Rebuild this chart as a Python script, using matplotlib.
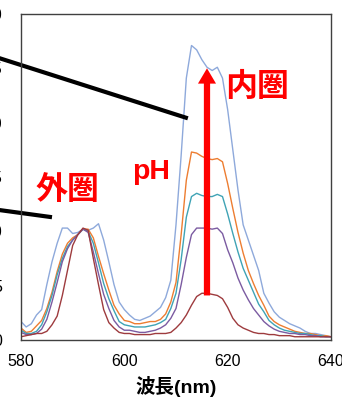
import numpy as np
import matplotlib
matplotlib.use('Agg')
import matplotlib.pyplot as plt

plt.rcParams['font.family'] = ['Liberation Sans', 'Noto Sans CJK JP']

# wavelength (nm), 1 nm steps
wavelength = np.arange(580, 641)

# emission intensity, one series per pH (lowest to highest drawn last)
s_blue = [1.7, 1.2, 1.5, 2.3, 2.8, 5.1, 7.2, 8.9, 10.3, 10.3,
          9.8, 9.9, 10.2, 10.1, 10.3, 10.7, 9.2, 7.2, 5.1, 3.5,
          2.8, 2.3, 1.9, 1.8, 2.0, 2.2, 2.6, 3.0, 3.9, 5.5,
          10.6, 17.0, 24.1, 27.1, 26.7, 25.8, 25.1, 24.8, 25.1, 24.1,
          21.2, 17.5, 13.8, 10.6, 9.2, 7.8, 6.4, 4.3, 3.4, 2.6,
          2.1, 1.8, 1.5, 1.3, 1.1, 0.8, 0.6, 0.6, 0.5, 0.4, 0.3]
s_orange = [1.1, 0.7, 0.8, 1.3, 1.8, 2.9, 4.4, 6.3, 7.9, 8.9,
            9.4, 9.7, 10.2, 10.2, 9.4, 7.7, 6.1, 4.6, 3.2, 2.4,
            1.8, 1.7, 1.5, 1.5, 1.6, 1.7, 1.7, 1.9, 2.4, 3.5,
            5.3, 9.7, 14.7, 17.3, 17.2, 16.9, 16.7, 16.6, 16.7, 16.4,
            14.4, 12.1, 9.9, 8.0, 6.4, 5.2, 4.1, 3.2, 2.2, 1.7,
            1.4, 1.2, 1.0, 0.8, 0.7, 0.6, 0.6, 0.5, 0.4, 0.4, 0.3]
s_teal = [0.9, 0.6, 0.6, 0.8, 1.4, 2.6, 4.1, 6.0, 7.5, 8.6,
          9.2, 9.7, 10.2, 10.0, 8.9, 7.1, 5.2, 3.8, 2.7, 1.7,
          1.4, 1.3, 1.2, 1.2, 1.2, 1.3, 1.4, 1.6, 1.9, 2.9,
          4.3, 7.4, 11.3, 13.2, 13.5, 13.3, 13.2, 13.2, 13.4, 13.2,
          11.6, 9.8, 8.1, 6.6, 5.5, 4.4, 3.3, 2.6, 1.8, 1.4,
          1.1, 0.9, 0.8, 0.7, 0.6, 0.6, 0.5, 0.4, 0.4, 0.3, 0.3]
s_purple = [0.7, 0.5, 0.5, 0.6, 1.0, 1.9, 3.5, 5.3, 7.2, 8.4,
            9.2, 9.7, 10.2, 9.9, 8.1, 6.1, 4.2, 2.9, 1.8, 1.2,
            0.9, 0.9, 0.8, 0.7, 0.7, 0.8, 0.9, 1.1, 1.4, 2.0,
            2.9, 5.1, 7.6, 9.7, 10.3, 10.3, 10.3, 10.2, 10.3, 9.8,
            8.3, 7.1, 5.7, 4.6, 3.7, 2.9, 2.3, 1.7, 1.3, 1.0,
            0.8, 0.7, 0.6, 0.6, 0.5, 0.5, 0.4, 0.4, 0.3, 0.3, 0.3]
s_red = [0.3, 0.4, 0.5, 0.6, 0.6, 0.8, 1.4, 2.2, 4.1, 6.4,
         8.7, 9.7, 10.3, 10.1, 7.5, 5.1, 2.8, 1.6, 1.1, 0.7,
         0.6, 0.6, 0.5, 0.5, 0.5, 0.5, 0.6, 0.6, 0.6, 0.7,
         1.1, 1.6, 2.3, 3.2, 4.0, 4.3, 4.3, 4.2, 4.1, 3.8,
         3.0, 2.0, 1.4, 1.1, 0.9, 0.7, 0.6, 0.6, 0.5, 0.5,
         0.4, 0.4, 0.4, 0.3, 0.3, 0.3, 0.3, 0.3, 0.3, 0.3, 0.3]

series = [s_blue, s_orange, s_teal, s_purple, s_red]
colors = ['#8EA9DB', '#ED7D31', '#3FA3B5', '#7B5BA1', '#9E3B3E']

x_ticks = [580, 600, 620, 640]
y_ticks = [0, 5, 10, 15, 20, 25, 30]

fig = plt.figure(figsize=(3.42, 4.01), dpi=100)
ax = fig.add_axes([0.0614, 0.1521, 0.9064, 0.813])

for s, c in zip(series, colors):
    ax.plot(wavelength, s, color=c, lw=1.0)

ax.set_xlim(580, 640)
ax.set_ylim(0, 30)
ax.set_xticks(x_ticks)
ax.set_yticks(y_ticks)
ax.tick_params(length=0, labelsize=11.5)
ax.tick_params(axis='x', pad=10)
ax.tick_params(axis='y', pad=13.5)
for sp in ax.spines.values():
    sp.set_color('#404040')
    sp.set_linewidth(1.0)

ax.set_xlabel('波長(nm)', fontsize=14, fontweight='bold', labelpad=5)

# pointer lines coming from outside the crop
ax.plot([572.1, 612.3], [26.5, 20.4], color='black', lw=3, clip_on=False,
        solid_capstyle='butt')
ax.plot([572.1, 586.0], [12.2, 11.3], color='black', lw=3, clip_on=False,
        solid_capstyle='butt')

# pH arrow
ax.annotate('', xy=(616.0, 25.0), xytext=(616.0, 4.1),
            arrowprops=dict(width=4.5, headwidth=13, headlength=11,
                            shrink=0, color='red', lw=0))

ax.text(625.7, 23.2, '内圏', color='red', fontsize=23, fontweight='bold',
        ha='center', va='center')
ax.text(589.1, 13.7, '外圏', color='red', fontsize=23, fontweight='bold',
        ha='center', va='center')
ax.text(605.2, 15.5, 'pH', color='red', fontsize=20.5, fontweight='bold',
        ha='center', va='center')

fig.savefig('out.png', dpi=100)
